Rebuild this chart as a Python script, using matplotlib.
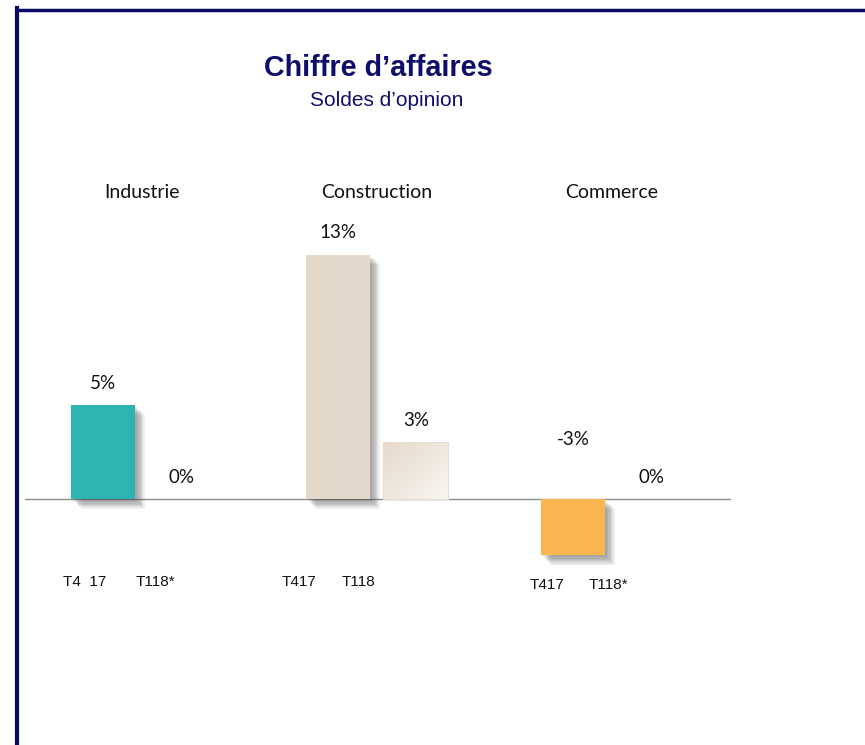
import numpy as np
import matplotlib
matplotlib.use("Agg")
import matplotlib.pyplot as plt
import matplotlib.patheffects as pe
from matplotlib.lines import Line2D

#====================================================================================================

sectors    = ["Industrie", "Construction", "Commerce"]
quarters   = [["T4  17", "T118*"], ["T417", "T118"], ["T417", "T118*"]]
val_t417   = [5, 13, -3]
val_t118   = [0, 3, 0]
colors_417 = ["#2db3b0", "#e4d8ca", "#f9b650"]

#====================================================================================================

def main():
    fig = plt.figure(figsize = (8.65, 7.45), dpi = 100)

    # axes placed so that zero line sits where it does in the original slide
    px_per_unit = 18.8
    y_top, y_bot = 17.0, -6.0
    base_px = 499
    top_px  = base_px - y_top * px_per_unit
    bot_px  = base_px - y_bot * px_per_unit
    ax = fig.add_axes([25 / 865, 1 - bot_px / 745, (731 - 25) / 865, (bot_px - top_px) / 745])
    ax.set_xlim(-0.498, 2.506)
    ax.set_ylim(y_bot, y_top)
    ax.axis("off")

    x = np.arange(len(sectors))
    width = 0.272
    gap   = 0.332
    x1 = x - gap / 2
    x2 = x + gap / 2

    # soft drop shadow: several faint offset copies
    shadow = []
    for k in range(7):
        d = 1.5 + 0.9 * k
        shadow.append(pe.SimplePatchShadow(offset = (d, -d), shadow_rgbFace = "#3a3a3a", alpha = 0.08))
    shadow.append(pe.Normal())

    bars1 = ax.bar(x1, val_t417, width = width, color = colors_417, zorder = 3)
    for b in bars1:
        b.set_path_effects(shadow)

    bars2 = ax.bar(x2, val_t118, width = width, color = "#f1ebe3", edgecolor = "#e8dccc", linewidth = 1.5, zorder = 3)
    for b, v in zip(bars2, val_t118):
        if v == 0:
            b.set_visible(False)
            continue
        # light diagonal gradient inside the T118 construction bar
        x0, y0 = b.get_x(), b.get_y()
        w, h = b.get_width(), b.get_height()
        gx, gy = np.meshgrid(np.linspace(0, 1, 50), np.linspace(0, 1, 50))
        grad = (gx + (1 - gy)) / 2
        cmap = matplotlib.colors.LinearSegmentedColormap.from_list("beige", ["#e6dacb", "#f8f5f1"])
        im = ax.imshow(grad, cmap = cmap, extent = (x0, x0 + w, y0 + h, y0), origin = "upper",
                       aspect = "auto", zorder = 3.5)
        im.set_clip_path(b)

    ax.axhline(0, color = "#8c8c8c", linewidth = 1, zorder = 2)

    # value labels
    lab_font = dict(family = ["Lato", "DejaVu Sans"], fontsize = 13.5, color = "#111111", ha = "center", va = "center")
    for xs, vals in ((x1, val_t417), (x2, val_t118)):
        for xi, v in zip(xs, vals):
            if v >= 0:
                yl = v + 1.17
            else:
                yl = -v + 0.15
            ax.text(xi, yl, "{0}%".format(v), **lab_font)

    # sector headers
    for xi, name in zip(x, sectors):
        ax.text(xi, 16.28, name, **{**lab_font, "fontsize": 14})

    # quarter labels, shifted left of their bars as on the slide
    shift1 = [-0.08, -0.166, -0.11]
    shift2 = [-0.11, -0.247, -0.183]
    tick_font = dict(family = ["Liberation Sans", "DejaVu Sans"], fontsize = 11, color = "#111111", ha = "center", va = "center")
    for i, (q1, q2) in enumerate(quarters):
        yq = -4.4 if i < 2 else -4.57
        ax.text(x1[i] + shift1[i], yq, q1, **tick_font)
        ax.text(x2[i] + shift2[i], yq, q2, **tick_font)

    # titles
    navy = "#0f0f6b"
    fig.text(378 / 865, 1 - 68 / 745, "Chiffre d\u2019affaires", ha = "center", va = "center",
             fontsize = 20.7, fontweight = "bold", color = navy, family = ["Liberation Sans", "DejaVu Sans"])
    fig.text(387 / 865, 1 - 101 / 745, "Soldes d\u2019opinion", ha = "center", va = "center",
             fontsize = 15, color = navy, family = ["Liberation Sans", "DejaVu Sans"])

    # slide frame (open on the right and bottom)
    frame = "#0a0a66"
    fig.add_artist(Line2D([17 / 865, 1.0], [1 - 9.5 / 745, 1 - 9.5 / 745], color = frame, linewidth = 2.5,
                          transform = fig.transFigure))
    fig.add_artist(Line2D([17 / 865, 17 / 865], [1 - 8 / 745, 0.0], color = frame, linewidth = 3,
                          transform = fig.transFigure))

    plotSave = "out.png"
    fig.savefig(plotSave, dpi = 100)
    print("Created {plot}".format(plot=plotSave))

#====================================================================================================

if __name__ == "__main__":
    main()
